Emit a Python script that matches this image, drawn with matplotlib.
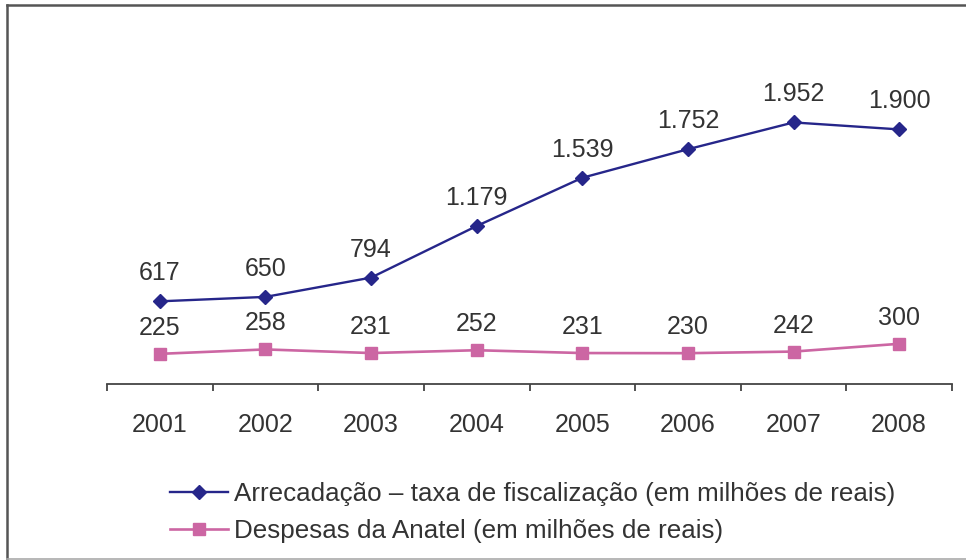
import matplotlib
matplotlib.use('Agg')
import matplotlib.pyplot as plt
from matplotlib.lines import Line2D

# Data
anos = ['2001', '2002', '2003', '2004', '2005', '2006', '2007', '2008']
arrecadacao = [617, 650, 794, 1179, 1539, 1752, 1952, 1900]
despesas = [225, 258, 231, 252, 231, 230, 242, 300]
legenda = ['Arrecadação \u2013 taxa de fiscalização (em milhões de reais)',
           'Despesas da Anatel (em milhões de reais)']

plt.rcParams['font.family'] = ['Liberation Sans', 'DejaVu Sans']
texto = '#333333'
azul = '#26268a'
rosa = '#cc66a3'

def fmt(v):
    # Portuguese thousands separator
    return f'{v:,}'.replace(',', '.')

fig = plt.figure(figsize=(9.66, 5.6), dpi=100)
ax = fig.add_axes([107 / 966, 176 / 560, 845 / 966, 335 / 560])

x = list(range(len(anos)))
l1, = ax.plot(x, arrecadacao, color=azul, lw=1.7, marker='D', ms=7,
              markerfacecolor=azul, markeredgecolor=azul)
l2, = ax.plot(x, despesas, color=rosa, lw=1.9, marker='s', ms=9,
              markerfacecolor=rosa, markeredgecolor=rosa)

for xi, v in zip(x, arrecadacao):
    ax.annotate(fmt(v), (xi, v), xytext=(0, 28), textcoords='offset pixels',
                ha='center', va='center', fontsize=18, color=texto)
for xi, v in zip(x, despesas):
    ax.annotate(fmt(v), (xi, v), xytext=(0, 26), textcoords='offset pixels',
                ha='center', va='center', fontsize=18, color=texto)

ax.set_xlim(-0.5, len(anos) - 0.5)
ax.set_ylim(0, 2500)
for s in ['top', 'right', 'left']:
    ax.spines[s].set_visible(False)
ax.spines['bottom'].set_color('#444444')
ax.spines['bottom'].set_linewidth(1.3)
ax.set_yticks([])
ax.set_xticks(x)
ax.set_xticklabels(anos, fontsize=18, color=texto)
ax.tick_params(axis='x', which='major', length=0, pad=21)
ax.set_xticks([i - 0.5 for i in range(len(anos) + 1)], minor=True)
ax.tick_params(axis='x', which='minor', length=5, width=1.3, color='#444444')

fig.legend([l1, l2], legenda, loc='upper left',
           bbox_to_anchor=(170 / 966, 78 / 560), frameon=False,
           fontsize=18.7, handlelength=2.25, handletextpad=0.2,
           labelspacing=0.5, borderpad=0, borderaxespad=0,
           labelcolor=texto)

# outer frame of the original picture
fig.add_artist(Line2D([7 / 966, 7 / 966], [0, 1 - 5 / 560], color='#555555', lw=1.8))
fig.add_artist(Line2D([7 / 966, 1], [1 - 5 / 560, 1 - 5 / 560], color='#555555', lw=1.8))
fig.add_artist(Line2D([7 / 966, 1], [1.5 / 560, 1.5 / 560], color='#aaaaaa', lw=1.2))

fig.savefig('out.png', dpi=100, facecolor='white')
